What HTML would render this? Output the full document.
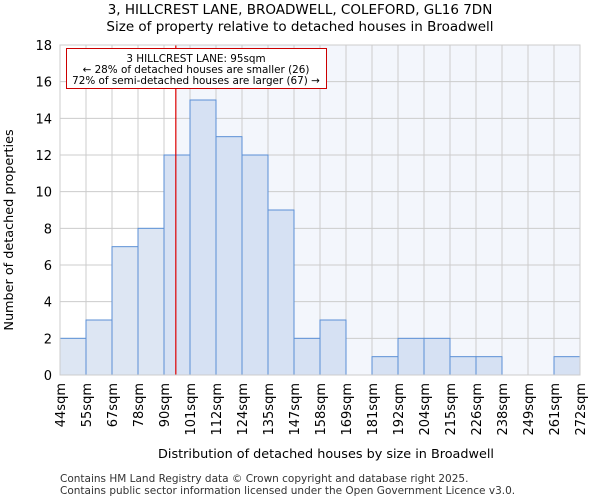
<!DOCTYPE html>
<html><head><meta charset="utf-8"><style>
body{margin:0;background:#fff;font-family:"DejaVu Sans","Liberation Sans",sans-serif}
</style></head><body>
<svg width="600" height="500" xmlns="http://www.w3.org/2000/svg" font-family="DejaVu Sans, Liberation Sans, sans-serif">
<text x="300" y="14" text-anchor="middle" font-size="13.5">3, HILLCREST LANE, BROADWELL, COLEFORD, GL16 7DN</text>
<text x="300" y="31" text-anchor="middle" font-size="13.5">Size of property relative to detached houses in Broadwell</text>
<g id="plot"></g>
<text x="326" y="458" text-anchor="middle" font-size="12.8">Distribution of detached houses by size in Broadwell</text>
<text transform="translate(13,230) rotate(-90)" text-anchor="middle" font-size="12.8">Number of detached properties</text>
<text x="60" y="482" font-size="10.5" fill="#333">Contains HM Land Registry data © Crown copyright and database right 2025.</text>
<text x="60" y="494" font-size="10.5" fill="#333">Contains public sector information licensed under the Open Government Licence v3.0.</text>
</svg>
<script>
const binLabels=["44sqm","55sqm","67sqm","78sqm","90sqm","101sqm","112sqm","124sqm","135sqm","147sqm","158sqm","169sqm","181sqm","192sqm","204sqm","215sqm","226sqm","238sqm","249sqm","261sqm","272sqm"];
const binEdges=[44,55,67,78,90,101,112,124,135,147,158,169,181,192,204,215,226,238,249,261,272];
const counts=[2,3,7,8,12,15,13,12,9,2,3,0,1,2,2,1,1,0,0,1];
const yTicks=[0,2,4,6,8,10,12,14,16,18];
const subjectSize=95;
const NS="http://www.w3.org/2000/svg";
const g=document.getElementById('plot');
const X0=60,X1=580,Y0=375,Y1=45,yMax=18;
const n=counts.length,bw=(X1-X0)/n;
const xi=i=>X0+i*bw;
const xv=v=>{for(let i=0;i<n;i++){if(v>=binEdges[i]&&v<=binEdges[i+1])return xi(i)+bw*(v-binEdges[i])/(binEdges[i+1]-binEdges[i]);}return X0;};
const y=v=>Y0-(Y0-Y1)*v/yMax;
function el(t,a,name,p){const e=document.createElementNS(NS,t);for(const k in a)e.setAttribute(k,a[k]);


(p||g).appendChild(e);return e;}
const lx=xv(subjectSize);
el('rect',{x:lx,y:Y1,width:X1-lx,height:Y0-Y1,fill:'#f3f6fc'},'highlight-region');
for(const t of yTicks){el('line',{x1:X0,x2:X1,y1:y(t),y2:y(t),stroke:'#ccc'},'y-gridline');
const tx=el('text',{x:X0-8,y:y(t)+5,'text-anchor':'end','font-size':13},'y-tick-label');tx.textContent=t;}
for(let i=0;i<=n;i++){el('line',{x1:xi(i),x2:xi(i),y1:Y1,y2:Y0,stroke:'#ccc'},'x-gridline');
const tx=el('text',{transform:`translate(${xi(i)+5},${Y0+8}) rotate(-90)`,'text-anchor':'end','font-size':13},'x-tick-label');tx.textContent=binLabels[i];}
counts.forEach((c,i)=>{if(c>0)el('rect',{x:xi(i),y:y(c),width:bw,height:Y0-y(c),fill:xi(i)+bw<=lx?'#dde6f3':'#d6e1f3',stroke:'#5b8fd6','stroke-width':1},'bar-'+binLabels[i]);});
el('line',{x1:lx,x2:lx,y1:Y1,y2:Y0,stroke:'#d00','stroke-width':1.2},'subject-marker-line');
el('rect',{x:66.5,y:48.5,width:260,height:40,fill:'#fff',stroke:'#c00'},'annotation-box');
const lines=["3 HILLCREST LANE: 95sqm","← 28% of detached houses are smaller (26)","72% of semi-detached houses are larger (67) →"];
lines.forEach((s,i)=>{const t=el('text',{x:196,y:62+i*11,'text-anchor':'middle','font-size':10.4},'annotation-text');t.textContent=s;});
el('rect',{x:X0,y:Y1,width:X1-X0,height:Y0-Y1,fill:'none',stroke:'#ccc'},'plot-border');
</script>
</body></html>
